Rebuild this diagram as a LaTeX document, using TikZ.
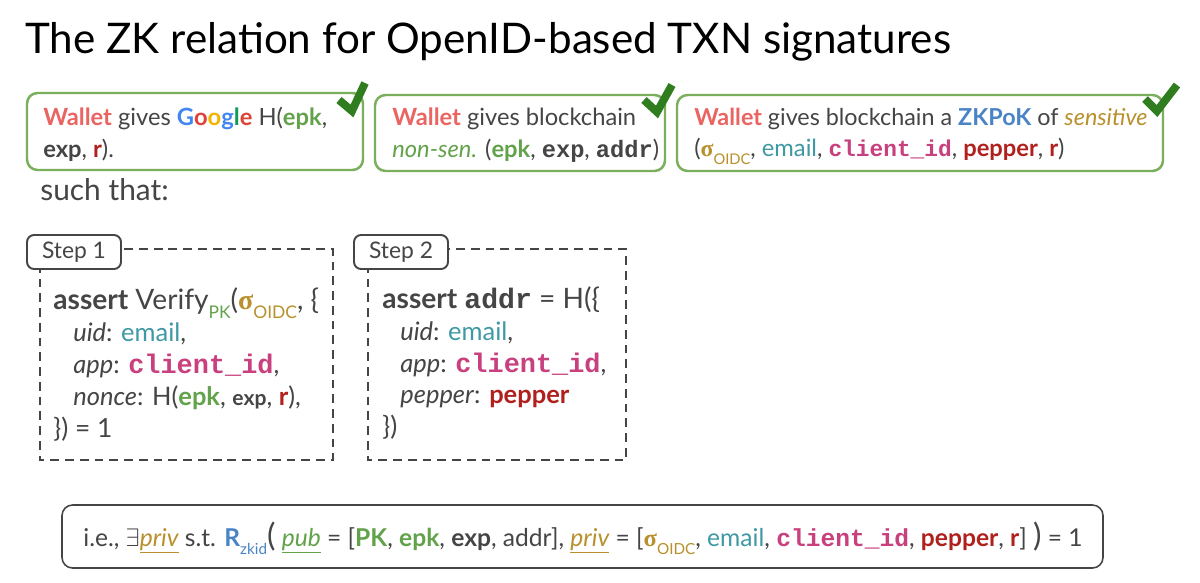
\documentclass[tikz,border=0pt]{standalone}
\usepackage{fontspec}
\setmainfont{Lato}
\setmonofont{Liberation Mono}
\newfontfamily\sigmafont{Liberation Serif}
\usetikzlibrary{positioning}
\usepackage{xcolor}

\definecolor{txtgray}{HTML}{454545}
\definecolor{boxgreen}{HTML}{7AAF5C}
\definecolor{checkgreen}{HTML}{2F7D1F}
\definecolor{walletred}{HTML}{EA6461}
\definecolor{epkgreen}{HTML}{62A24A}
\definecolor{rred}{HTML}{B0201C}
\definecolor{oidcgold}{HTML}{B8902C}
\definecolor{emailteal}{HTML}{3F99A4}
\definecolor{cidmag}{HTML}{C8407E}
\definecolor{zkblue}{HTML}{4A84C6}
\definecolor{gblue}{HTML}{4285F4}
\definecolor{gred}{HTML}{DB4437}
\definecolor{gyellow}{HTML}{F4B400}
\definecolor{ggreen}{HTML}{0F9D58}

\newcommand{\lowsub}[1]{\raisebox{-0.35em}{\scalebox{0.62}{#1}}}
\newcommand{\sigoidc}{{\color{oidcgold}{\sigmafont\bfseries σ}\lowsub{OIDC}}}
\newcommand{\cid}{\textcolor{cidmag}{\ttfamily\bfseries client\_id}}

\begin{document}
\begin{tikzpicture}[x=0.02cm, y=-0.02cm,
    greenbox/.style={draw=boxgreen, line width=1.4pt, rounded corners=6pt},
    checkmark/.style={draw=checkgreen, line width=4.5pt},
    boxtext/.style={anchor=base west, inner sep=0pt, text=txtgray, font=\fontsize{13.5}{16}\selectfont},
    steptext/.style={anchor=base west, inner sep=0pt, text=txtgray, font=\fontsize{16}{19}\selectfont},
    stepline/.style={steptext, font=\fontsize{14.5}{17}\selectfont},
    dashbox/.style={draw=txtgray, line width=1.1pt, dash pattern=on 5pt off 3.4pt},
    steplabel/.style={draw=txtgray, fill=white, line width=1.1pt, rounded corners=4pt, text=txtgray,
        minimum width=1.88cm, minimum height=0.68cm, inner sep=0pt, font=\fontsize{13}{15}\selectfont}]
    \fill[white] (0,0) rectangle (1200,582);
    \useasboundingbox (0,0) rectangle (1200,582);

    % Title
    \node[anchor=base west, inner sep=0pt, font=\fontsize{24}{29}\selectfont] (title) at (25,53)
        {The ZK relation for OpenID-based TXN signatures};

    % Box 1
    \draw[greenbox] (27,93) rectangle (363,170);
    \node[boxtext] (b1a) at (43,125) {\textbf{\textcolor{walletred}{Wallet}} gives
        \textbf{\textcolor{gblue}{G}\textcolor{gred}{o}\textcolor{gyellow}{o}\textcolor{gblue}{g}\textcolor{ggreen}{l}\textcolor{gred}{e}}
        H(\textbf{\textcolor{epkgreen}{epk}},};
    \node[boxtext] (b1b) at (43,157) {\textbf{exp}, \textbf{\textcolor{rred}{r}}).};
    \draw[checkmark] (339,100) -- (352,111) -- (365,83);

    % Box 2
    \draw[greenbox] (375,95) rectangle (665,171);
    \node[boxtext] (b2a) at (392,125) {\textbf{\textcolor{walletred}{Wallet}} gives blockchain};
    \node[boxtext] (b2b) at (392,157) {\textit{\textcolor{epkgreen}{non-sen.}}
        (\textbf{\textcolor{epkgreen}{epk}}, {\ttfamily\bfseries exp}, {\ttfamily\bfseries addr})};
    \draw[checkmark] (644,100) -- (657,112) -- (672,85);

    % Box 3
    \draw[greenbox] (677,95) rectangle (1163,171);
    \node[boxtext, font=\fontsize{13.3}{16}\selectfont] (b3a) at (694,125) {\textbf{\textcolor{walletred}{Wallet}} gives blockchain a
        \textbf{\textcolor{zkblue}{ZKPoK}} of \textit{\textcolor{oidcgold}{sensitive}}};
    \node[boxtext] (b3b) at (694,156) {(\sigoidc, \textcolor{emailteal}{email}, {\fontsize{13}{15}\selectfont\cid},
        \textbf{\textcolor{rred}{pepper}}, \textbf{\textcolor{rred}{r}})};
    \draw[checkmark] (1145,99) -- (1157,111) -- (1177,85);

    \node[anchor=base west, inner sep=0pt, text=txtgray, font=\fontsize{17}{20}\selectfont] (such) at (40,200) {such that:};

    % Step 1
    \draw[dashbox] (40,249) rectangle (333,460);
    \node[steplabel] (s1) at (74,252) {Step 1};
    \node[steptext] (s1a) at (53,309) {\textbf{assert} Verify\textcolor{epkgreen}{\lowsub{PK}}(\sigoidc, \{};
    \node[stepline] (s1b) at (73,341) {\textit{uid}: \textcolor{emailteal}{email},};
    \node[stepline] (s1c) at (73,373) {\textit{app}: {\fontsize{15.3}{17}\selectfont\cid},};
    \node[stepline] (s1d) at (73,405) {\textit{nonce}: H(\textbf{\textcolor{epkgreen}{epk}},
        {\fontsize{12}{14}\selectfont\bfseries exp}, \textbf{\textcolor{rred}{r}}),};
    \node[steptext, font=\fontsize{15}{18}\selectfont] (s1e) at (53,437) {\}) = 1};

    % Step 2
    \draw[dashbox] (368,249) rectangle (626,460);
    \node[steplabel] (s2) at (401,252) {Step 2};
    \node[steptext] (s2a) at (382,308) {\textbf{assert} {\ttfamily\bfseries addr} = H(\{};
    \node[stepline] (s2b) at (400,340) {\textit{uid}: \textcolor{emailteal}{email},};
    \node[stepline] (s2c) at (400,372) {\textit{app}: {\fontsize{15.3}{17}\selectfont\cid},};
    \node[stepline] (s2d) at (400,403) {\textit{pepper}: \textbf{\textcolor{rred}{pepper}}};
    \node[steptext, font=\fontsize{15}{18}\selectfont] (s2e) at (382,435) {\})};

    % Relation
    \draw[draw=txtgray, line width=0.9pt, rounded corners=6pt] (62,505) rectangle (1103,568);
    \node[boxtext, font=\fontsize{14}{17}\selectfont] (rel) at (83,546) {i.e., $\exists$\textit{\textcolor{oidcgold}{\underline{priv}}} s.t.
        \textbf{\textcolor{zkblue}{R}}\textcolor{zkblue}{\lowsub{zkid}}{\fontsize{18}{18}\selectfont(}
        \textit{\textcolor{epkgreen}{\underline{pub}}} = [\textbf{\textcolor{epkgreen}{PK}},
        \textbf{\textcolor{epkgreen}{epk}}, \textbf{exp}, addr],
        \textit{\textcolor{oidcgold}{\underline{priv}}} = [\sigoidc, \textcolor{emailteal}{email}, \cid,
        \textbf{\textcolor{rred}{pepper}}, \textbf{\textcolor{rred}{r}}] {\fontsize{18}{18}\selectfont)} = 1};
\end{tikzpicture}
\end{document}
